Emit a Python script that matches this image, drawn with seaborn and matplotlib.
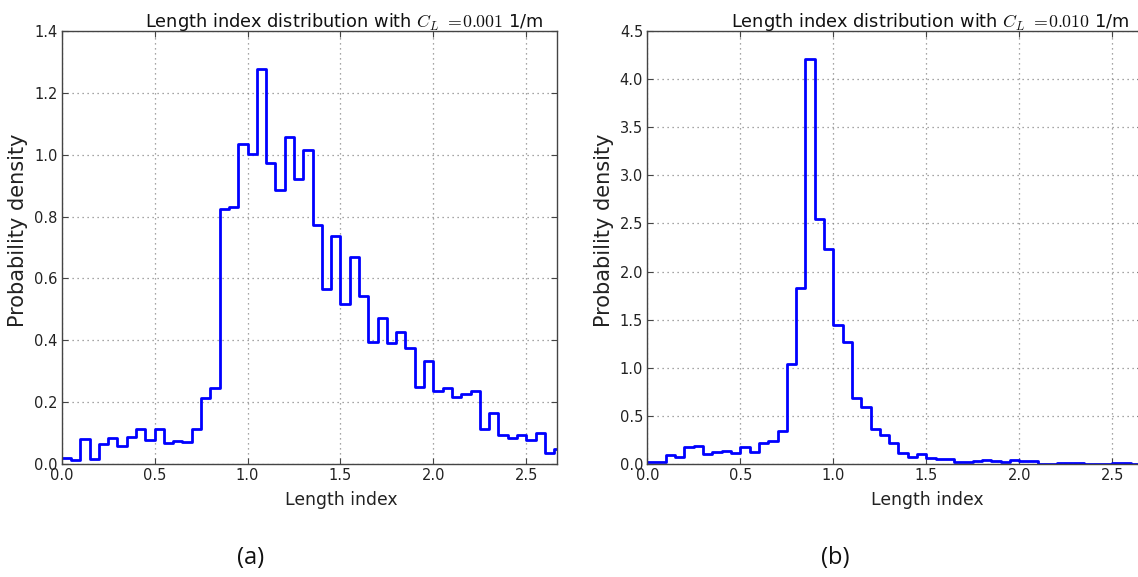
import numpy as np
import pandas as pd
import matplotlib
matplotlib.use("Agg")
import matplotlib.pyplot as plt
import seaborn as sns

# Histogram bins (length index), width 0.05
bin_edges = np.round(np.arange(0.0, 2.70001, 0.05), 2)
bin_centers = (bin_edges[:-1] + bin_edges[1:]) / 2

# Probability density per bin, C_L = 0.001 1/m
density_a = [0.020, 0.013, 0.080, 0.017, 0.065, 0.083, 0.059, 0.087, 0.113, 0.079,
             0.113, 0.067, 0.074, 0.070, 0.112, 0.212, 0.247, 0.824, 0.832, 1.034,
             1.003, 1.278, 0.974, 0.886, 1.057, 0.920, 1.015, 0.772, 0.567, 0.737,
             0.519, 0.670, 0.543, 0.394, 0.471, 0.391, 0.426, 0.375, 0.249, 0.334,
             0.236, 0.246, 0.216, 0.228, 0.236, 0.114, 0.166, 0.094, 0.083, 0.095,
             0.079, 0.099, 0.036, 0.048]

# Probability density per bin, C_L = 0.010 1/m
density_b = [0.024, 0.024, 0.094, 0.073, 0.177, 0.190, 0.104, 0.121, 0.132, 0.114,
             0.177, 0.121, 0.215, 0.242, 0.339, 1.043, 1.829, 4.208, 2.546, 2.238,
             1.441, 1.271, 0.682, 0.589, 0.366, 0.305, 0.218, 0.114, 0.069, 0.104,
             0.062, 0.055, 0.048, 0.021, 0.024, 0.031, 0.042, 0.035, 0.021, 0.042,
             0.031, 0.028, 0.003, 0.003, 0.010, 0.014, 0.010, 0.0, 0.0, 0.0,
             0.007, 0.007, 0.005, 0.005]

titles = [r"Length index distribution with $C_L$ $=\!0.001$ 1/m",
          r"Length index distribution with $C_L$ $=\!0.010$ 1/m"]
panel_labels = ["(a)", "(b)"]
y_ticks = [np.arange(0.0, 1.41, 0.2), np.arange(0.0, 4.51, 0.5)]
x_ticks = [0.0, 0.5, 1.0, 1.5, 2.0, 2.5]

sns.set_style("white")
plt.rcParams["font.family"] = ["DejaVu Sans"]
plt.rcParams["mathtext.fontset"] = "cm"

fig = plt.figure(figsize=(11.38, 5.77), dpi=100)
axes = [fig.add_axes([0.0542, 0.1958, 0.4352, 0.7504]),
        fig.add_axes([0.5688, 0.1958, 0.4356, 0.7504])]

for ax, dens, title, yt in zip(axes, [density_a, density_b], titles, y_ticks):
    df = pd.DataFrame({"length_index": bin_centers, "density": dens})
    sns.histplot(data=df, x="length_index", weights="density",
                 bins=list(bin_edges), element="step", fill=False,
                 color="#0000ff", linewidth=2.0, ax=ax)
    ax.set_xlim(0, 2.665)
    ax.set_ylim(0, yt[-1])
    ax.set_xticks(x_ticks)
    ax.set_yticks(yt)
    ax.set_xticklabels([f"{v:.1f}" for v in x_ticks])
    ax.set_yticklabels([f"{v:.1f}" for v in yt])
    ax.grid(True, linestyle=(0, (1, 3)), color="#888888", linewidth=0.9)
    ax.set_axisbelow(True)
    for sp in ax.spines.values():
        sp.set_color("#444444")
        sp.set_linewidth(1.0)
    ax.tick_params(direction="in", length=4, width=0.8, color="#444444",
                   top=True, right=True, bottom=True, left=True,
                   labelsize=10.5, labelcolor="#222222", pad=3)
    ax.set_xlabel("Length index", fontsize=12.4, color="#222222")
    ax.xaxis.set_label_coords(0.565, -0.062)
    ax.set_ylabel("Probability density", fontsize=15, color="#222222")
    ax.yaxis.set_label_coords(-0.068, 0.54)
    ax.set_title(title, fontsize=12.8, x=0.57, pad=3, color="#111111")

fig.text(0.22, 0.033, panel_labels[0], fontsize=17, family="Open Sans",
         ha="center", va="center", color="#111111")
fig.text(0.734, 0.033, panel_labels[1], fontsize=17, family="Open Sans",
         ha="center", va="center", color="#111111")

fig.savefig("out.png", dpi=100)
